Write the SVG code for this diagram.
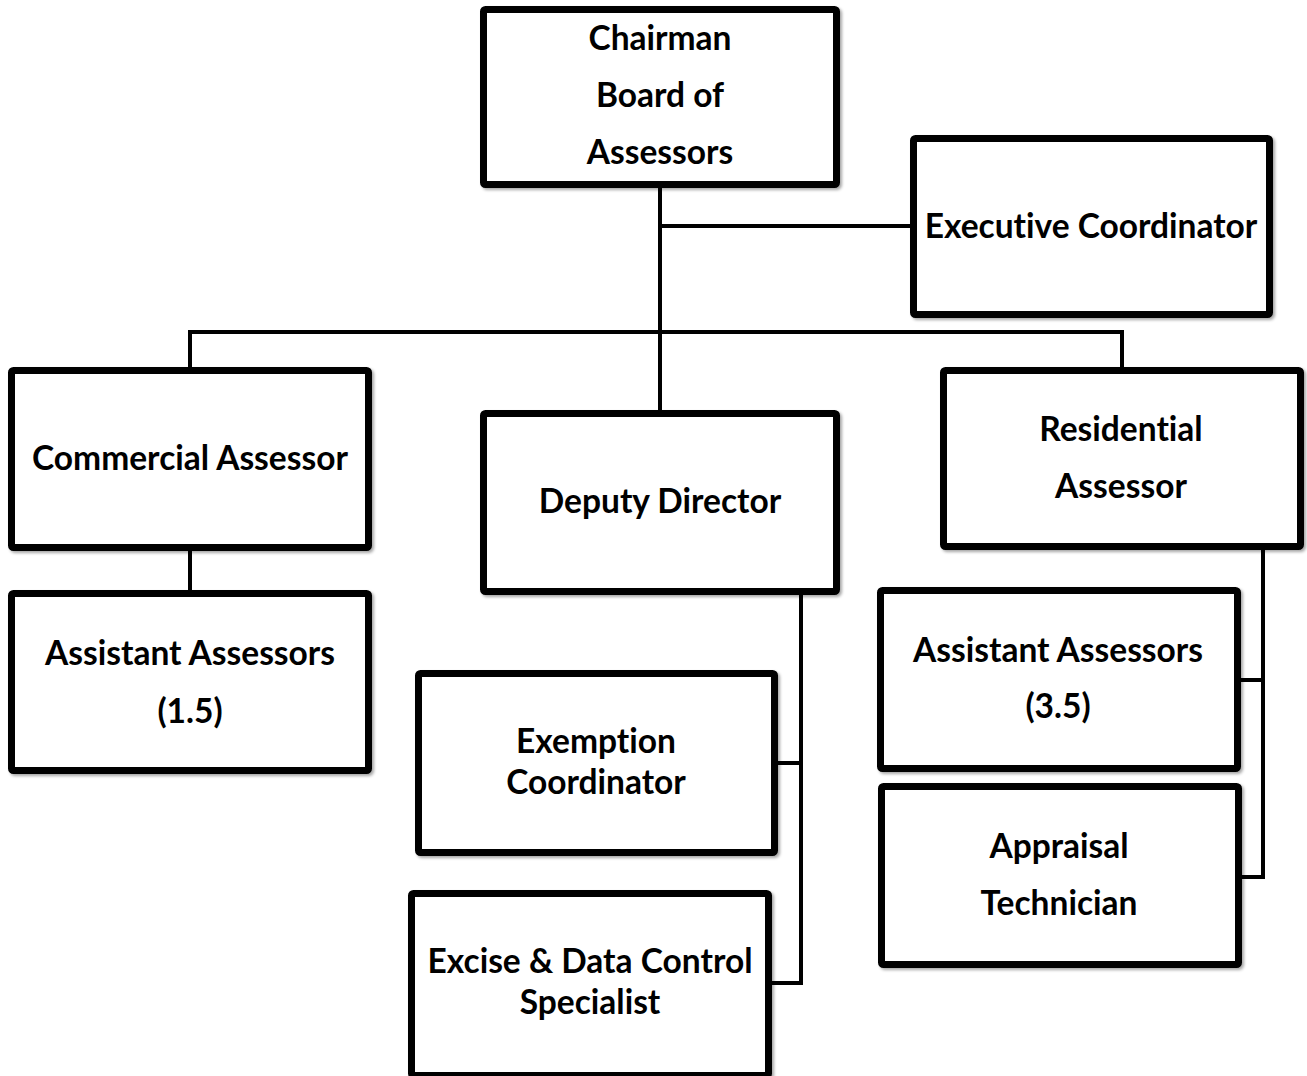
<svg xmlns="http://www.w3.org/2000/svg" width="1307" height="1076" viewBox="0 0 1307 1076">
<defs>
<filter id="sh" x="-5%" y="-5%" width="115%" height="115%">
<feDropShadow dx="2" dy="2" stdDeviation="1.5" flood-color="#000" flood-opacity="0.35"/>
</filter>
</defs>
<style>
.box{fill:#fff;stroke:#000;stroke-width:7;filter:url(#sh)}
.t{font-family:Lato,"Open Sans","Liberation Sans",sans-serif;font-weight:bold;font-size:33.5px;text-anchor:middle;fill:#000;font-variant-ligatures:none}
.c{fill:none;stroke:#000;stroke-width:4;stroke-linecap:square;stroke-linejoin:miter}
</style>
<g id="connectors">
<path class="c" d="M660 188V410"/>
<path class="c" d="M660 226H910"/>
<path class="c" d="M190 367V332H1122V367"/>
<path class="c" d="M190 551V590"/>
<path class="c" d="M801 595V983H772M778 763H801"/>
<path class="c" d="M1263 550V877H1242M1241 680H1263"/>
</g>
<g id="chairman">
<rect class="box" x="483.5" y="9.5" width="353" height="175" rx="2"/>
<text class="t" x="660" y="50">Chairman</text>
<text class="t" x="660" y="107">Board of</text>
<text class="t" x="660" y="164">Assessors</text>
</g>
<g id="executive-coordinator">
<rect class="box" x="913.5" y="138.5" width="356" height="176" rx="2"/>
<text class="t" x="1091" y="238">Executive Coordinator</text>
</g>
<g id="commercial-assessor">
<rect class="box" x="11.5" y="370.5" width="357" height="177" rx="2"/>
<text class="t" x="190" y="470">Commercial Assessor</text>
</g>
<g id="deputy-director">
<rect class="box" x="483.5" y="413.5" width="353" height="178" rx="2"/>
<text class="t" x="660" y="513">Deputy Director</text>
</g>
<g id="residential-assessor">
<rect class="box" x="943.5" y="370.5" width="357" height="176" rx="2"/>
<text class="t" x="1121" y="441">Residential</text>
<text class="t" x="1121" y="498">Assessor</text>
</g>
<g id="assistant-assessors-1-5">
<rect class="box" x="11.5" y="593.5" width="357" height="177" rx="2"/>
<text class="t" x="190" y="665">Assistant Assessors</text>
<text class="t" x="190" y="723">(1.5)</text>
</g>
<g id="exemption-coordinator">
<rect class="box" x="418.5" y="673.5" width="356" height="179" rx="2"/>
<text class="t" x="596" y="753">Exemption</text>
<text class="t" x="596" y="794">Coordinator</text>
</g>
<g id="excise-data-control-specialist">
<rect class="box" x="411.5" y="893.5" width="357" height="182" rx="2"/>
<text class="t" x="590" y="973">Excise &amp; Data Control</text>
<text class="t" x="590" y="1014">Specialist</text>
</g>
<g id="assistant-assessors-3-5">
<rect class="box" x="880.5" y="590.5" width="357" height="178" rx="2"/>
<text class="t" x="1058" y="662">Assistant Assessors</text>
<text class="t" x="1058" y="718">(3.5)</text>
</g>
<g id="appraisal-technician">
<rect class="box" x="881.5" y="786.5" width="357" height="178" rx="2"/>
<text class="t" x="1059" y="858">Appraisal</text>
<text class="t" x="1059" y="915">Technician</text>
</g>
</svg>
